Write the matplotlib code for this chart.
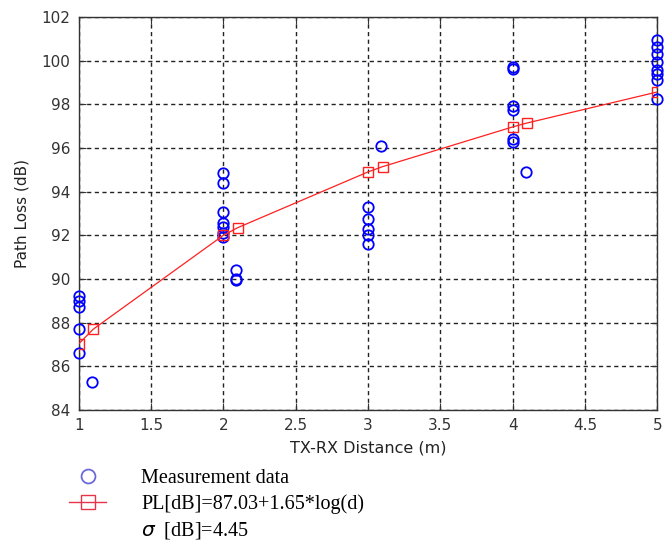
import numpy as np
import matplotlib.pyplot as plt
from matplotlib.lines import Line2D

meas_d = [1, 1, 1, 1, 1, 1.09,
          2, 2, 2, 2, 2, 2, 2, 2.09, 2.09, 2.09,
          3, 3, 3, 3, 3, 3.09,
          4, 4, 4, 4, 4, 4, 4.09,
          5, 5, 5, 5, 5, 5, 5, 5]
meas_pl = [89.2, 89.0, 88.7, 87.7, 86.6, 85.3,
           94.85, 94.4, 93.05, 92.55, 92.4, 92.1, 91.9, 90.4, 90.0, 89.95,
           93.3, 92.75, 92.3, 92.0, 91.6, 96.1,
           99.7, 99.6, 97.9, 97.75, 96.4, 96.25, 94.9,
           100.95, 100.6, 100.3, 99.95, 99.55, 99.4, 99.1, 98.25]

# fitted model points
fit_d = [1, 1.1, 2, 2.1, 3, 3.1, 4, 4.1, 5, 5.1]
fit_pl = [87.03, 87.7, 92.0, 92.35, 94.9, 95.14, 96.96, 97.14, 98.56, 98.7]

fig = plt.figure(figsize=(6.68, 5.43), dpi=100)
ax = fig.add_axes([0.118, 0.245, 0.866, 0.724])

ax.plot(meas_d, meas_pl, 'o', mfc='none', mec='#0000ff', ms=7.5, mew=1.3, clip_on=False, zorder=3)
ax.plot(fit_d, fit_pl, '-s', color='#ff2020', mfc='none', ms=7.5, mew=1.0, lw=0.9, zorder=4)

ax.set_xlim(1, 5)
ax.set_ylim(84, 102)
ax.set_xticks(np.arange(1, 5.01, 0.5))
ax.set_xticklabels(['1', '1.5', '2', '2.5', '3', '3.5', '4', '4.5', '5'])
ax.set_yticks(np.arange(84, 102.1, 2))
ax.grid(True, color='#222222', linestyle=(0, (3, 2.5)), linewidth=1.0)
ax.tick_params(direction='in', length=5, labelsize=11, colors='#333333', top=True, right=True, pad=6)
for s in ax.spines.values():
    s.set_color('#333333')
    s.set_linewidth(1.0)

ax.set_xlabel('TX-RX Distance (m)', fontsize=11.5, color='#222222', labelpad=5)
ax.set_ylabel('Path Loss (dB)', fontsize=11, color='#222222', labelpad=9)

handles = [Line2D([], [], ls='none', marker='o', mfc='none', mec='#6a6ad8', ms=10, mew=1.3),
           Line2D([], [], color='#e8344a', marker='s', mfc='none', ms=10, lw=1.0),
           Line2D([], [], ls='none')]
labels = ['Measurement data', 'PL[dB]=87.03+1.65*log(d)', r'$\sigma$  [dB]=4.45']
fig.legend(handles, labels, loc='upper left', bbox_to_anchor=(0.076, 0.17),
           frameon=False, prop={'family': 'Liberation Serif', 'size': 14.5},
           handlelength=1.85, handletextpad=1.75, labelspacing=0.3)

plt.savefig('out.png')
